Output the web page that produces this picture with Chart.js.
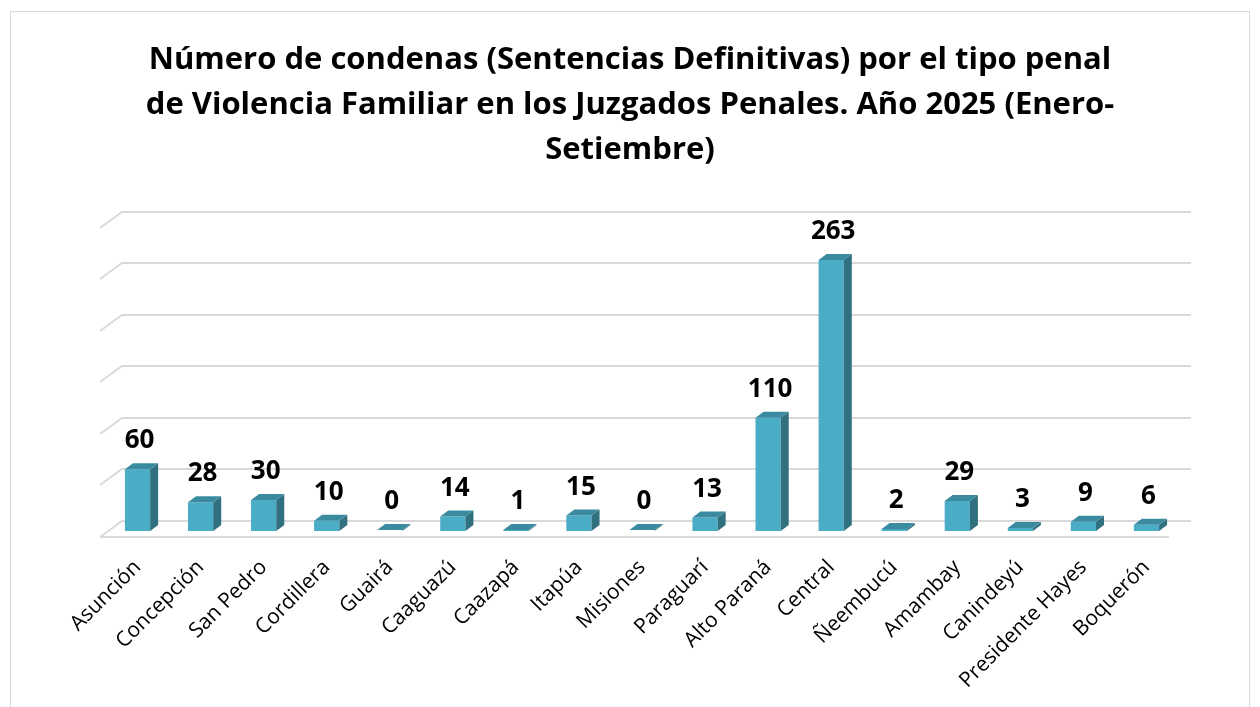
<!DOCTYPE html>
<html>
<head>
<meta charset="utf-8">
<script src="https://cdn.jsdelivr.net/npm/chart.js@4.4.1/dist/chart.umd.min.js"></script>
<style>
  html, body { margin: 0; padding: 0; background: #fff; }
  #frame { position: absolute; left: 10px; top: 11px; width: 1238px; height: 720px; border: 1px solid #d9d9d9; }
  #chart { position: absolute; left: 0; top: 0; }
</style>
</head>
<body>
<div id="frame"></div>
<canvas id="chart" width="1260" height="707"></canvas>
<script>
const titleLines = [
  "Número de condenas (Sentencias Definitivas) por el tipo penal",
  "de Violencia Familiar en los Juzgados Penales. Año 2025 (Enero-",
  "Setiembre)"
];
const departments = ["Asunción", "Concepción", "San Pedro", "Cordillera", "Guairá", "Caaguazú", "Caazapá",
  "Itapúa", "Misiones", "Paraguarí", "Alto Paraná", "Central", "Ñeembucú", "Amambay", "Canindeyú",
  "Presidente Hayes", "Boquerón"];
const convictions = [60, 28, 30, 10, 0, 14, 1, 15, 0, 13, 110, 263, 2, 29, 3, 9, 6];
const yMax = 300, yStep = 50;

const FRONT = "#4bacc6", SIDE = "#31707f", TOP = "#3b8ba0";
const DX = 8, DY = 6;          // bar depth
const GX = 22, GY = 16;        // floor depth

// perspective gridlines + floor
const gridPlugin = {
  id: "grid3d",
  beforeDatasetsDraw(chart) {
    const { ctx, chartArea: a, scales: { y } } = chart;
    const backL = a.left + 16, backR = a.right + 13;
    ctx.save();
    ctx.strokeStyle = "#d9d9d9";
    ctx.lineWidth = 2;
    y.ticks.forEach(t => {
      const py = Math.round(y.getPixelForValue(t.value) - 10);
      ctx.beginPath();
      ctx.moveTo(backL - GX, py + GY);
      ctx.lineTo(backL, py);
      ctx.lineTo(backR, py);
      ctx.stroke();
    });
    // front floor edge
    const fy = Math.round(y.getPixelForValue(0) + 6);
    ctx.beginPath();
    ctx.moveTo(backL - GX, fy);
    ctx.lineTo(backR - GX, fy);
    ctx.stroke();
    ctx.restore();
  }
};

// side/top faces and value labels
const barPlugin = {
  id: "bar3d",
  afterDatasetsDraw(chart) {
    const { ctx } = chart;
    const meta = chart.getDatasetMeta(0);
    ctx.save();
    meta.data.forEach((bar, i) => {
      const { x, y, base, width } = bar.getProps(["x", "y", "base", "width"], true);
      const l = x - width / 2, r = x + width / 2;
      const top = Math.min(y, base - 1);
      ctx.fillStyle = SIDE;
      ctx.beginPath();
      ctx.moveTo(r, top); ctx.lineTo(r + DX, top - DY); ctx.lineTo(r + DX, base - DY); ctx.lineTo(r, base);
      ctx.closePath(); ctx.fill();
      ctx.fillStyle = TOP;
      ctx.beginPath();
      ctx.moveTo(l, top); ctx.lineTo(l + DX, top - DY); ctx.lineTo(r + DX, top - DY); ctx.lineTo(r, top);
      ctx.closePath(); ctx.fill();
      ctx.fillStyle = "#000";
      ctx.font = "bold 26px 'Open Sans'";
      ctx.textAlign = "center";
      ctx.textBaseline = "alphabetic";
      ctx.fillText(String(convictions[i]), x + 2, top - 21);
    });
    ctx.restore();
  }
};

new Chart(document.getElementById("chart"), {
  type: "bar",
  data: {
    labels: departments,
    datasets: [{ data: convictions, backgroundColor: FRONT, borderWidth: 0, barPercentage: 0.4, categoryPercentage: 1 }]
  },
  options: {
    responsive: false,
    animation: false,
    devicePixelRatio: 1,
    layout: { padding: { left: 82, right: 82, top: 10, bottom: 11 } },
    plugins: {
      legend: { display: false },
      tooltip: { enabled: false },
      title: {
        display: true,
        text: titleLines,
        color: "#000",
        font: { family: "'Open Sans'", size: 31, weight: "bold", lineHeight: 1.45 },
        padding: { top: 28, bottom: 49 }
      }
    },
    scales: {
      x: {
        grid: { display: false },
        border: { display: false },
        ticks: { color: "#000", font: { family: "'Open Sans'", size: 21 }, minRotation: 45, maxRotation: 45, padding: 16, autoSkip: false },
        afterFit: s => { s.height = 165; }
      },
      y: {
        min: 0, max: yMax,
        grid: { display: false },
        border: { display: false },
        ticks: { stepSize: yStep, display: false },
        afterFit: s => { s.width = 24; }
      }
    }
  },
  plugins: [gridPlugin, barPlugin]
});
</script>
</body>
</html>
